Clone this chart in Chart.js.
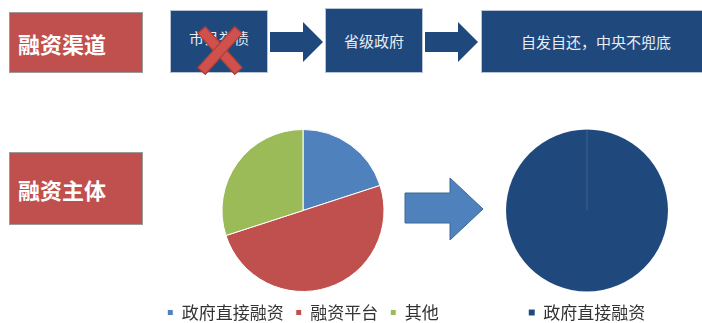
<!DOCTYPE html>
<html>
<head>
<meta charset="utf-8">
<script src="https://cdn.jsdelivr.net/npm/chart.js@4/dist/chart.umd.min.js"></script>
<style>
  html, body { margin: 0; padding: 0; background: #fff; }
  body { width: 702px; height: 323px; position: relative; overflow: hidden;
         font-family: "Noto Sans CJK SC", "Noto Sans", sans-serif; }
  .box { position: absolute; box-sizing: border-box; color: #fff; display: flex;
         align-items: center; }
  .red { background: #c0504d; border: 1px solid #9a9a9a; font-size: 22px; font-weight: bold;
         padding-left: 8px; }
  .blue { background: #1f497d; border: 1px solid #b8c4d4; font-size: 15px; justify-content: center; color: #e8edf4; }
  .arrow { position: absolute; }
  .chart-wrap { position: absolute; }
  .xmark { position: absolute; left: 220px; top: 50px; width: 0; height: 0; }
  .xmark div { position: absolute; left: -28px; top: -5px; width: 56px; height: 11px;
               background: #d0504b; border: 1px solid #a33c38; box-sizing: border-box; }
</style>
</head>
<body>
<div class="box red" style="left:9px;top:12px;width:134px;height:61px;">融资渠道</div>
<div class="box blue" style="left:170px;top:10px;width:98px;height:63px;align-items:flex-start;padding-top:16px;">市县举债</div>
<div class="xmark"><div style="transform:rotate(48deg)"></div><div style="transform:rotate(-48deg)"></div></div>
<svg class="arrow" style="left:269px;top:20px" width="56" height="44">
  <polygon points="1,12 34,12 34,2 54,22 34,42 34,32 1,32" fill="#1f497d"/>
</svg>
<div class="box blue" style="left:325px;top:8px;width:98px;height:65px;">省级政府</div>
<svg class="arrow" style="left:424px;top:20px" width="56" height="44">
  <polygon points="1,12 34,12 34,2 54,22 34,42 34,32 1,32" fill="#1f497d"/>
</svg>
<div class="box blue" style="left:481px;top:10px;width:230px;height:63px;">自发自还，中央不兜底</div>

<div class="box red" style="left:9px;top:152px;width:134px;height:73px;">融资主体</div>
<svg class="arrow" style="left:403px;top:176px" width="82" height="66">
  <polygon points="2,17 47,17 47,2 80,33 47,64 47,47 2,47" fill="#4f81bd" stroke="#3d6896" stroke-width="1"/>
</svg>

<div class="chart-wrap" style="left:133px;top:125px;width:340px;height:206px;"><canvas id="pieBefore"></canvas></div>
<div class="chart-wrap" style="left:447px;top:125px;width:280px;height:206px;"><canvas id="pieAfter"></canvas></div>

<script>
// before: three financing subjects
const beforeLabels = ['政府直接融资', '融资平台', '其他'];
const beforeValues = [20, 50, 30];
const beforeColors = ['#4f81bd', '#c0504d', '#9bbb59'];

// after: only direct government financing
const afterLabels = ['政府直接融资'];
const afterValues = [100];
const afterColors = ['#1f497d'];

const FONT = '"Noto Sans CJK SC", "Noto Sans", sans-serif';

function makePie(id, labels, values, colors, borderColor) {
  return new Chart(document.getElementById(id), {
    type: 'pie',
    data: {
      labels,
      datasets: [{
        data: values,
        backgroundColor: colors,
        borderColor: borderColor,
        borderWidth: 1,
      }],
    },
    options: {
      responsive: true,
      maintainAspectRatio: false,
      animation: false,
      layout: { padding: { top: 4, bottom: 0 } },
      plugins: {
        tooltip: { enabled: false },
        legend: {
          position: 'bottom',
          labels: {
            boxWidth: 6,
            boxHeight: 6,
            padding: 12,
            color: '#333',
            font: { size: 17, family: FONT },
          },
        },
      },
    },
  });
}

makePie('pieBefore', beforeLabels, beforeValues, beforeColors, '#ffffff');
makePie('pieAfter', afterLabels, afterValues, afterColors, 'rgba(255,255,255,0.07)');
</script>
</body>
</html>
